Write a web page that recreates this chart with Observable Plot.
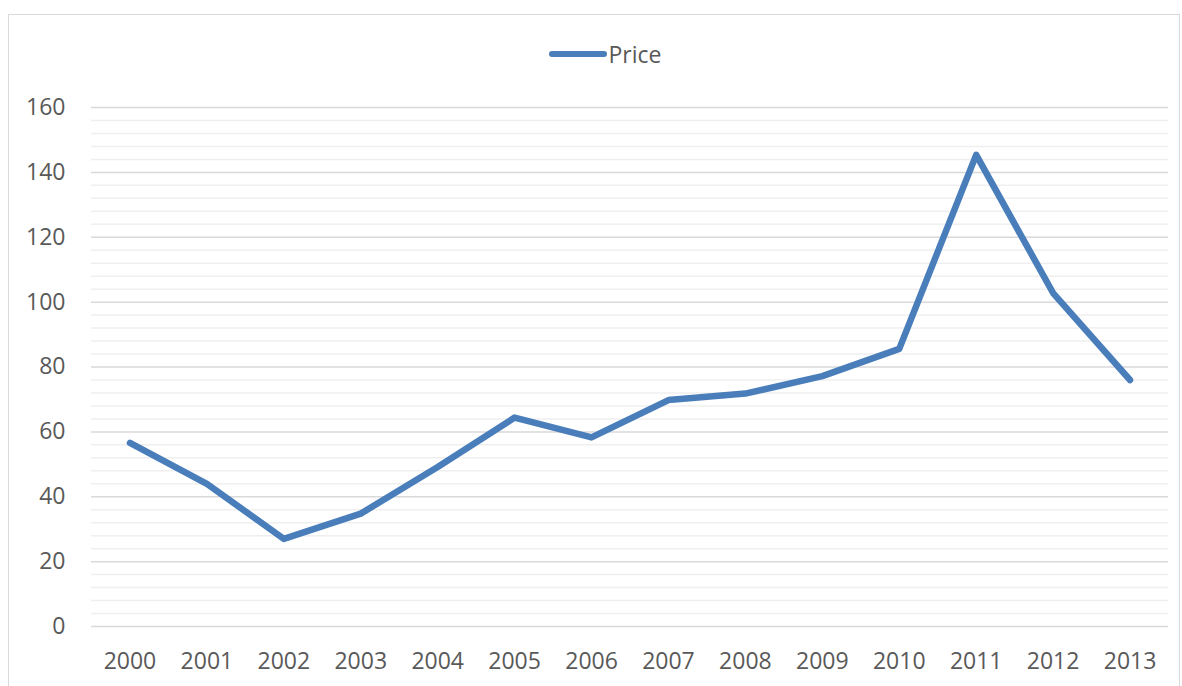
<!DOCTYPE html>
<html>
<head>
<meta charset="utf-8">
<script src="https://cdn.jsdelivr.net/npm/d3@7"></script>
<script src="https://cdn.jsdelivr.net/npm/@observablehq/plot@0.6"></script>
<style>
  html, body { margin: 0; padding: 0; background: #fff; }
  #wrap { position: relative; width: 1182px; height: 686px; overflow: hidden; font-family: "Open Sans", "Noto Sans", sans-serif; }
  #frame { position: absolute; left: 8px; top: 14px; width: 1172px; height: 690px; border: 1px solid #d9d9d9; box-sizing: border-box; }
  #legend { position: relative; height: 90px; display: flex; justify-content: center; align-items: flex-start; }
  #legend .item { display: flex; align-items: center; margin-top: 40px; margin-left: 28px; }
  #legend .sw { width: 58px; height: 6px; border-radius: 3px; background: #4a7ebb; margin-right: 2px; }
  #legend .lab { font-size: 23px; color: #595959; line-height: 28px; }
  #chart { position: relative; }
</style>
</head>
<body>
<div id="wrap">
  <div id="frame"></div>
  <div id="legend"></div>
  <div id="chart"></div>
</div>
<script>
const years = ["2000","2001","2002","2003","2004","2005","2006","2007","2008","2009","2010","2011","2012","2013"];
const price = [56.6, 44, 27, 34.8, 49.2, 64.4, 58.3, 69.8, 71.8, 77.2, 85.6, 145.4, 102.8, 76];
const seriesName = "Price";
const yMajor = [0, 20, 40, 60, 80, 100, 120, 140, 160];
const yMinor = d3.range(0, 161, 4).filter(v => v % 20 !== 0);

const data = years.map((y, i) => ({year: y, value: price[i]}));

const leg = document.getElementById("legend");
leg.innerHTML = `<div class="item"><div class="sw"></div><div class="lab">${seriesName}</div></div>`;

const chart = Plot.plot({
  width: 1182,
  height: 596,
  marginLeft: 91,
  marginRight: 14,
  marginTop: 17,
  marginBottom: 60,
  style: { fontFamily: "'Open Sans', 'Noto Sans', sans-serif", fontSize: "23px", color: "#595959", background: "transparent" },
  x: { type: "point", domain: years, padding: 0.5, round: false, label: null },
  y: { domain: [0, 160], label: null },
  marks: [
    Plot.gridY(yMinor, { stroke: "#efefef", strokeOpacity: 1, strokeWidth: 1.5 }),
    Plot.gridY(yMajor, { stroke: "#d9d9d9", strokeOpacity: 1, strokeWidth: 1.5 }),
    Plot.axisY(yMajor, { tickSize: 0, tickPadding: 26, fill: "#595959", fontSize: 23 }),
    Plot.axisX(years, { tickSize: 0, tickPadding: 26, fill: "#595959", fontSize: 23 }),
    Plot.line(data, { x: "year", y: "value", stroke: "#4a7ebb", strokeWidth: 6.5, strokeLinecap: "round", strokeLinejoin: "round" })
  ]
});
document.getElementById("chart").appendChild(chart);
</script>
</body>
</html>
